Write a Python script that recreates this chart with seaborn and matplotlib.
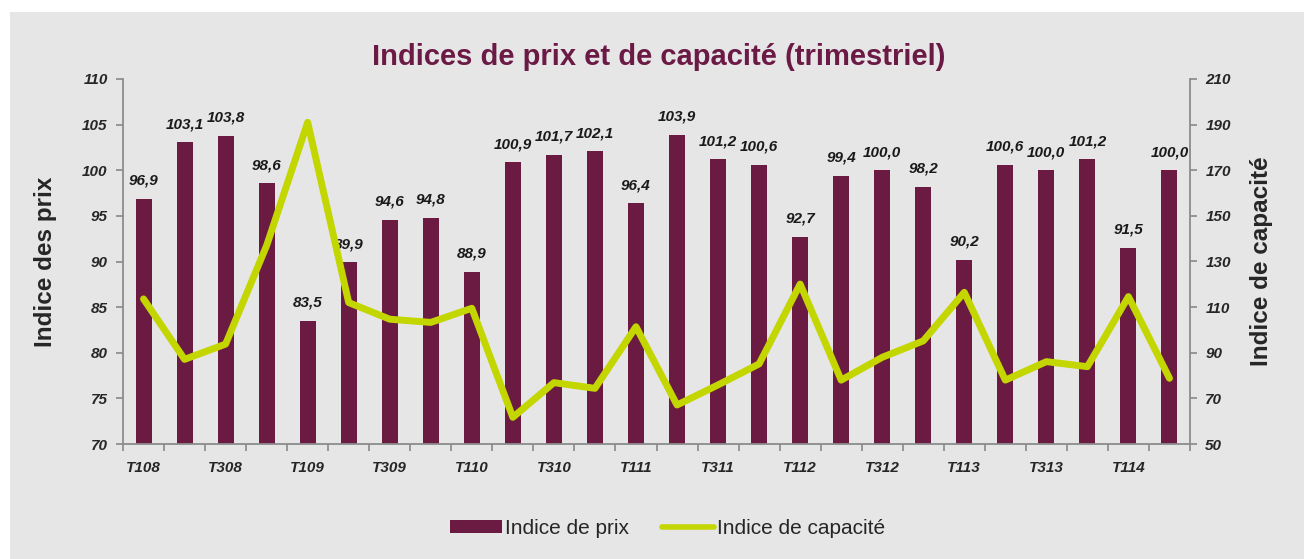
import matplotlib
matplotlib.use("Agg")
import matplotlib.pyplot as plt
import seaborn as sns
import pandas as pd
import numpy as np
from matplotlib.patches import Rectangle
from matplotlib.lines import Line2D

sns.set_theme(style="white")
plt.rcParams['font.family'] = ['Liberation Sans', 'DejaVu Sans']

quarters = ["T108", "T208", "T308", "T408", "T109", "T209", "T309", "T409",
            "T110", "T210", "T310", "T410", "T111", "T211", "T311", "T411",
            "T112", "T212", "T312", "T412", "T113", "T213", "T313", "T413",
            "T114", "T214"]
prix = [96.9, 103.1, 103.8, 98.6, 83.5, 89.9, 94.6, 94.8, 88.9, 100.9, 101.7, 102.1,
        96.4, 103.9, 101.2, 100.6, 92.7, 99.4, 100.0, 98.2, 90.2, 100.6, 100.0, 101.2,
        91.5, 100.0]
capacite = [113.6, 87.1, 93.8, 137, 191, 112, 104.7, 103.3, 109.5, 61.7, 76.9, 74.4,
            101.4, 67.1, 75.9, 85.1, 120.1, 78, 88, 95.2, 116.5, 78, 86.1, 83.9,
            114.6, 78.8]
tick_labels = [q if i % 2 == 0 else "" for i, q in enumerate(quarters)]

df = pd.DataFrame({"quarter": quarters, "prix": prix, "capacite": capacite})

BG = "#e6e6e6"
BAR = "#6b1a42"
LINE = "#c3d600"
TITLE = "#6b1a45"
SPINE = "#8c8c8c"

fig = plt.figure(figsize=(13.04, 5.59), dpi=100, facecolor="white")
bgrect = Rectangle((10 / 1304, 0), 1 - 10 / 1304, 1 - 12 / 559,
                   transform=fig.transFigure, facecolor=BG,
                   edgecolor="none", zorder=-10)
fig.patches.append(bgrect)
ax = fig.add_axes([123 / 1304, 1 - 444 / 559, (1190 - 123) / 1304, (444 - 79) / 559])
ax.set_facecolor(BG)

sns.barplot(data=df, x="quarter", y="prix", color=BAR, width=0.39,
            saturation=1, ax=ax, zorder=2, linewidth=0)
ax.set_ylim(70, 110)
ax.set_yticks(np.arange(70, 111, 5))

for i, v in enumerate(prix):
    ax.text(i, v + 1.2, f"{v:.1f}".replace(".", ","), ha="center", va="bottom",
            fontsize=11, fontweight="bold", fontstyle="italic", color="#1a1a1a")

ax2 = ax.twinx()
sns.lineplot(x=np.arange(len(quarters)), y=capacite, color=LINE, linewidth=5,
             ax=ax2, zorder=3)
ax2.set_ylim(50, 210)
ax2.set_yticks(np.arange(50, 211, 20))
ax.set_xlim(-0.5, len(quarters) - 0.5)
ax2.set_xlim(-0.5, len(quarters) - 0.5)

# x ticks at category boundaries, labels at every other category
ax.set_xticks(np.arange(-0.5, len(quarters), 1), minor=False)
ax.set_xticklabels([])
ax.set_xticks(np.arange(len(quarters)), minor=True)
ax.set_xticklabels(tick_labels, minor=True)
ax.tick_params(axis="x", which="minor", length=0, pad=12, bottom=True)
ax.tick_params(axis="x", which="major", length=5, color=SPINE, direction="out", bottom=True)
for lbl in ax.get_xticklabels(minor=True):
    lbl.set_fontweight("bold"); lbl.set_fontstyle("italic"); lbl.set_fontsize(11)

ax.tick_params(axis="y", length=5, color=SPINE, direction="out", pad=6, left=True)
ax2.tick_params(axis="y", length=5, color=SPINE, direction="out", pad=6, right=True)
for lbl in ax.get_yticklabels() + ax2.get_yticklabels():
    lbl.set_fontweight("bold"); lbl.set_fontstyle("italic"); lbl.set_fontsize(11)

for a in (ax, ax2):
    a.spines["top"].set_visible(False)
    for s in ("left", "right", "bottom"):
        a.spines[s].set_color(SPINE)
        a.spines[s].set_linewidth(1.3)
ax.spines["right"].set_visible(False)
ax2.spines["left"].set_visible(False)
ax2.spines["bottom"].set_visible(False)

ax.set_xlabel("")
ax.set_ylabel("Indice des prix", fontsize=17.5, fontweight="bold", labelpad=18)
ax2.set_ylabel("Indice de capacité", fontsize=17.5, fontweight="bold", labelpad=14)
ax2.grid(False); ax.grid(False)

fig.text(0.505, 1 - 57 / 559, "Indices de prix et de capacité (trimestriel)",
         ha="center", va="center", fontsize=21, fontweight="bold", color=TITLE)

handles = [Rectangle((0, 0), 1, 1, facecolor=BAR, edgecolor="none"),
           Line2D([0], [0], color=LINE, linewidth=4, solid_capstyle="round")]
fig.legend(handles, ["Indice de prix", "Indice de capacité"], loc="center",
           bbox_to_anchor=(0.512, 1 - 528 / 559), ncol=2, frameon=False,
           fontsize=15, handlelength=2.5, handleheight=0.6, columnspacing=1.6,
           handletextpad=0.15)

fig.savefig("out.png", dpi=100, facecolor="white")
